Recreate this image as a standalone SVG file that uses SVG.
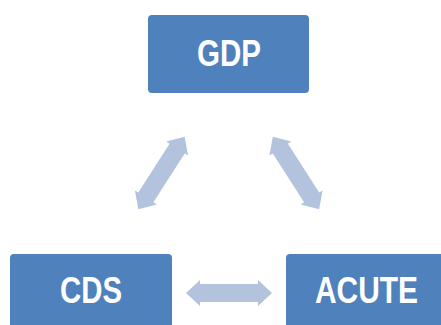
<svg xmlns="http://www.w3.org/2000/svg" width="441" height="325" viewBox="0 0 441 325">
<defs>
<style>
.box{fill:#4F81BD;}
.lbl{font-family:"Liberation Sans Narrow","Liberation Sans",Arial,sans-serif;font-weight:bold;font-size:36px;fill:#FFFFFF;text-anchor:middle;}
.arr{fill:#B3C3DE;}
</style>
<path id="dbl" d="M-43,0 L-29,-13 L-29,-9 L29,-9 L29,-13 L43,0 L29,13 L29,9 L-29,9 L-29,13 Z"/>
</defs>
<rect width="441" height="325" fill="#FFFFFF"/>
<g id="connectors">
<use href="#dbl" class="arr" transform="translate(161.5,173) rotate(-57.4)"/>
<use href="#dbl" class="arr" transform="translate(296,173) rotate(57.4)"/>
<use href="#dbl" class="arr" transform="translate(229,293)"/>
</g>
<g id="gdp">
<rect class="box" x="148" y="15" width="161" height="78" rx="4"/>
<text class="lbl" x="229" y="66" textLength="64" lengthAdjust="spacingAndGlyphs">GDP</text>
</g>
<g id="cds">
<rect class="box" x="10" y="254" width="162" height="80" rx="4"/>
<text class="lbl" x="91" y="302.5" textLength="62" lengthAdjust="spacingAndGlyphs">CDS</text>
</g>
<g id="acute">
<rect class="box" x="286" y="254" width="162" height="80" rx="4"/>
<text class="lbl" x="366.5" y="302.5" textLength="103" lengthAdjust="spacingAndGlyphs">ACUTE</text>
</g>
</svg>
